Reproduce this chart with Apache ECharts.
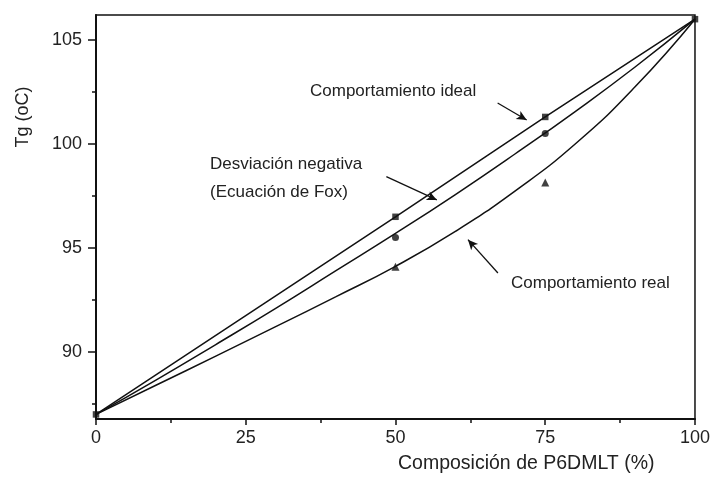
<!DOCTYPE html>
<html>
<head>
<meta charset="utf-8">
<script src="https://cdn.jsdelivr.net/npm/echarts@6/dist/echarts.min.js"></script>
<style>
html,body{margin:0;padding:0;background:#fff;}
#chart{width:713px;height:478px;}
</style>
</head>
<body>
<div id="chart"></div>
<script>
// ---- data ----
var xTicks = [0, 25, 50, 75, 100];
var yTicks = [90, 95, 100, 105];
var yMinorTicks = [87.5, 92.5, 97.5, 102.5];

// curves (composition %, Tg °C)
var idealX = [0, 50, 75, 100];
var idealY = [87, 96.5, 101.3, 106];
var foxX = [0, 10, 20, 30, 40, 50, 60, 70, 80, 90, 100];
var foxY = [87, 88.65, 90.36, 92.1, 93.9, 95.7, 97.57, 99.53, 101.56, 103.7, 106];
var realX = [0, 10, 20, 30, 40, 50, 60, 70, 80, 90, 100];
var realY = [87, 88.4, 89.8, 91.22, 92.65, 94.12, 95.8, 97.75, 100.0, 102.75, 106];

// measured points
var squareX = [0, 50, 75, 100];
var squareY = [87, 96.5, 101.3, 106];
var circleX = [50, 75];
var circleY = [95.5, 100.5];
var triangleX = [50, 75];
var triangleY = [94.1, 98.15];

// annotations
var annotations = ['Comportamiento ideal', 'Desviación negativa', '(Ecuación de Fox)', 'Comportamiento real'];
var xName = 'Composición de P6DMLT (%)';
var yName = 'Tg (oC)';

function zip(a, b) { return a.map(function (v, i) { return [v, b[i]]; }); }

var FONT = '"Liberation Sans", Arial, Helvetica, sans-serif';
var INK = '#111';

var chart = echarts.init(document.getElementById('chart'), null, {renderer: 'canvas'});

var lineStyle = {color: INK, width: 1.5};

var option = {
  animation: false,
  backgroundColor: '#fff',
  grid: {left: 96, right: 16, top: 15, bottom: 59, show: true, borderColor: INK, borderWidth: 1.5, backgroundColor: 'transparent'},
  xAxis: {
    type: 'value', min: 0, max: 100, interval: 25,
    axisLine: {show: true, lineStyle: {color: INK, width: 2}},
    axisTick: {show: true, inside: false, length: 6, lineStyle: {color: INK, width: 1.5}},
    minorTick: {show: true, splitNumber: 2, length: 4, lineStyle: {color: INK, width: 1.5}},
    splitLine: {show: false},
    axisLabel: {fontFamily: FONT, fontSize: 18, color: '#222', margin: 10,
      formatter: function (v) { return xTicks.indexOf(v) >= 0 ? String(v) : ''; }}
  },
  yAxis: [{
    type: 'value', min: 86.78, max: 106.2,
    axisLine: {show: true, lineStyle: {color: INK, width: 2}},
    axisTick: {show: true, inside: false, length: 8, lineStyle: {color: INK, width: 1.5}, customValues: yTicks},
    splitLine: {show: false},
    axisLabel: {fontFamily: FONT, fontSize: 18, color: '#222', margin: 14, customValues: yTicks}
  }, {
    type: 'value', min: 86.78, max: 106.2, position: 'left', offset: 0,
    axisLine: {show: false},
    axisTick: {show: true, inside: false, length: 4, lineStyle: {color: INK, width: 1.5}, customValues: yMinorTicks},
    splitLine: {show: false},
    axisLabel: {show: false}
  }],
  series: [
    {type: 'line', name: 'ideal', data: zip(idealX, idealY), symbol: 'none', lineStyle: lineStyle, silent: true,
      markLine: {
        silent: true, symbol: ['none', 'arrow'], symbolSize: [7, 10], label: {show: false},
        lineStyle: {color: INK, width: 1.3, type: 'solid'},
        data: [
          [{coord: [67.05, 101.97]}, {coord: [71.9, 101.15]}],
          [{coord: [48.47, 98.43]}, {coord: [56.9, 97.31]}],
          [{coord: [67.1, 93.8]}, {coord: [62.1, 95.4]}]
        ]
      }},
    {type: 'line', name: 'fox', data: zip(foxX, foxY), symbol: 'none', smooth: 0.5, lineStyle: lineStyle, silent: true},
    {type: 'line', name: 'real', data: zip(realX, realY), symbol: 'none', smooth: 0.5, lineStyle: lineStyle, silent: true},
    {type: 'scatter', data: zip(squareX, squareY), symbol: 'rect', symbolSize: 6.5, itemStyle: {color: INK}, silent: true},
    {type: 'scatter', data: zip(circleX, circleY), symbol: 'circle', symbolSize: 7, itemStyle: {color: INK}, silent: true},
    {type: 'scatter', data: zip(triangleX, triangleY), symbol: 'triangle', symbolSize: 8, itemStyle: {color: INK}, silent: true}
  ],
  graphic: [
    {type: 'text', left: 310, top: 83, style: {text: annotations[0], font: '17px ' + FONT, fill: '#222'}},
    {type: 'text', left: 210, top: 156, style: {text: annotations[1], font: '17px ' + FONT, fill: '#222'}},
    {type: 'text', left: 210, top: 184, style: {text: annotations[2], font: '17px ' + FONT, fill: '#222'}},
    {type: 'text', left: 511, top: 275, style: {text: annotations[3], font: '17px ' + FONT, fill: '#222'}},
    {type: 'text', left: 398, top: 454, style: {text: xName, font: '19.5px ' + FONT, fill: '#222'}},
    {type: 'text', x: 23, y: 117, rotation: Math.PI / 2,
      style: {text: yName, font: '18px ' + FONT, fill: '#222', align: 'center', verticalAlign: 'middle'}}
  ]
};
chart.setOption(option);
</script>
</body>
</html>
